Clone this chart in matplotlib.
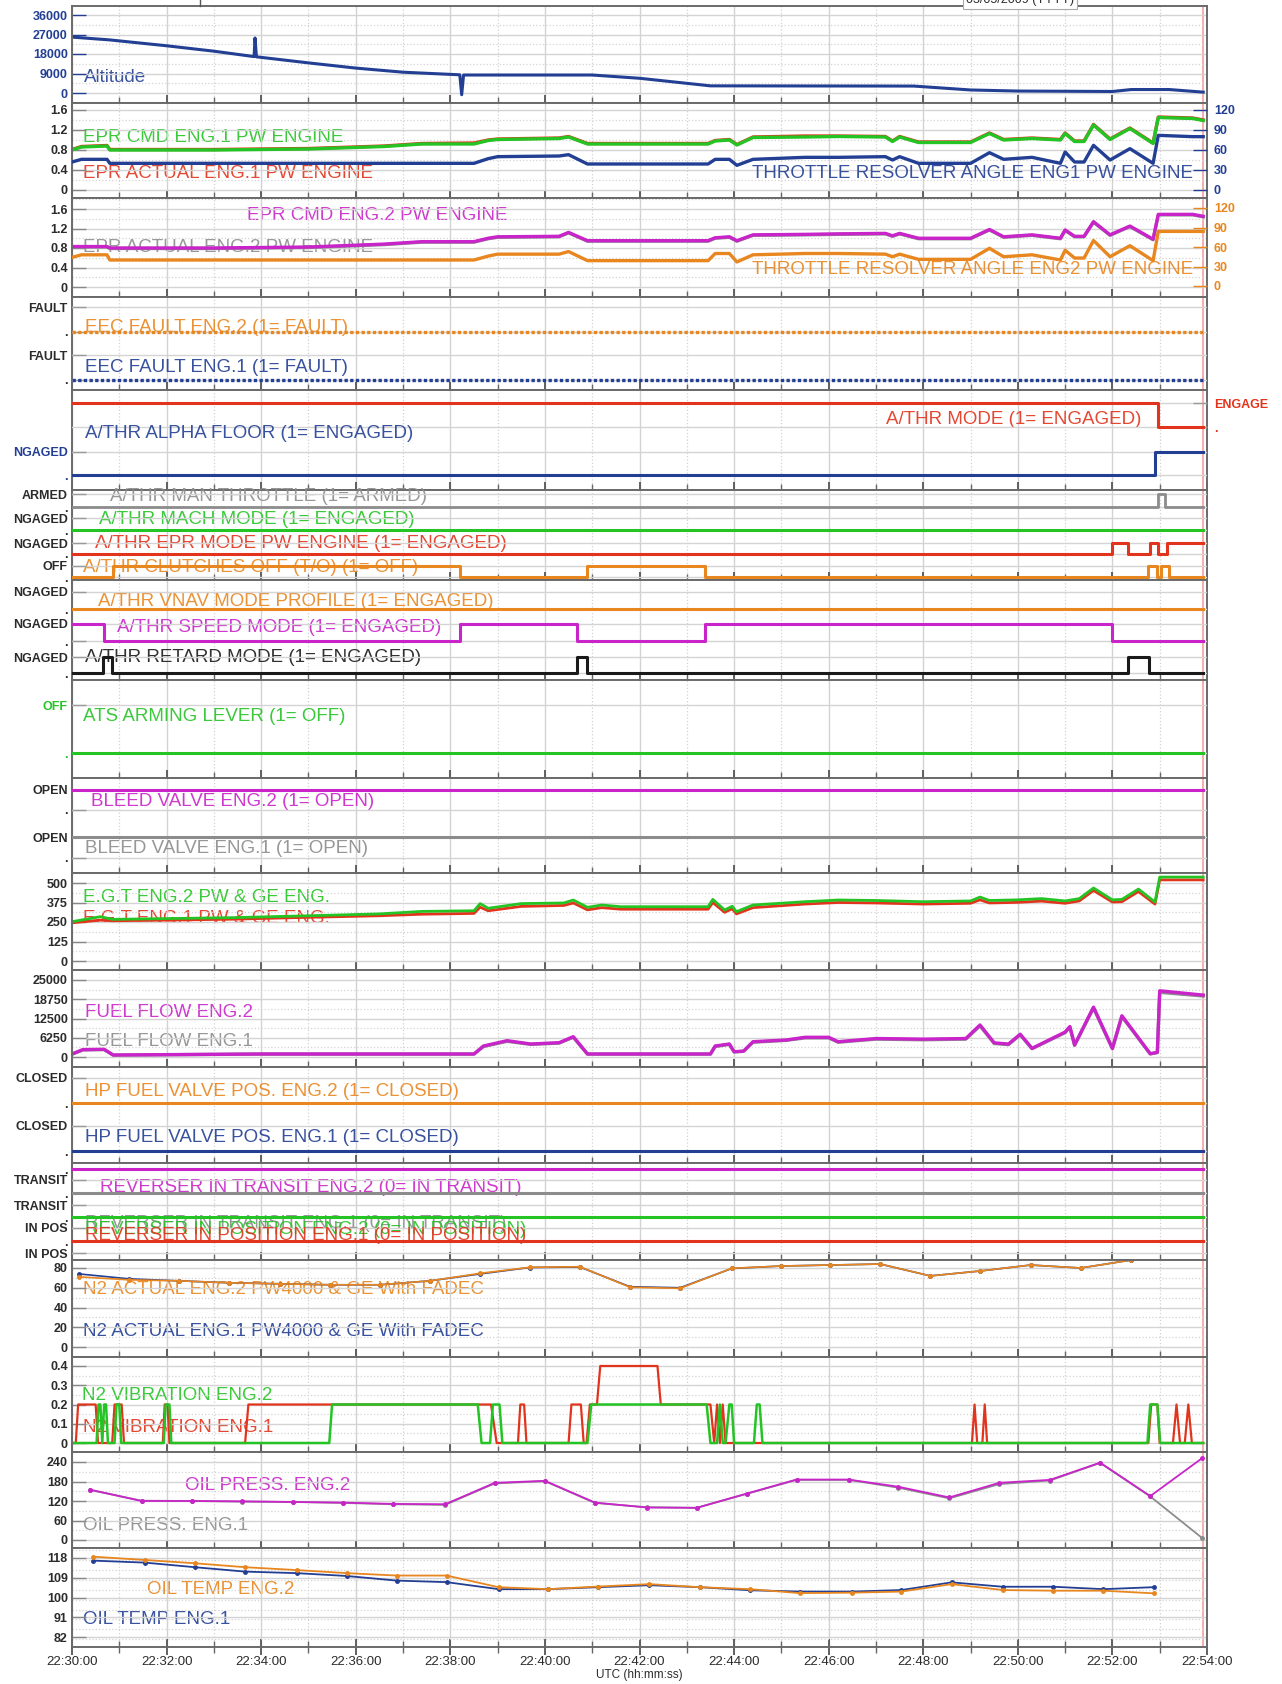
import matplotlib
matplotlib.use("Agg")
import matplotlib.pyplot as plt
from matplotlib.lines import Line2D
from matplotlib.ticker import MultipleLocator, FuncFormatter

plt.rcParams['font.family'] = ['Liberation Sans', 'DejaVu Sans']

# %% data -- time axis is minutes after 22:30:00 UTC
T_END = 23.92
const_t = [0, T_END]

alt_t = [0, 0.8, 2.0, 3.0, 3.85, 3.87, 3.9, 5.0, 6.0, 7.0, 8.2, 8.24, 8.28, 11.0, 12.0,
         13.5, 17.8, 19.0, 20.0, 22.0, 22.4, 23.2, 23.92]
alt_v = [25800, 24500, 21800, 19300, 16800, 25400, 16700, 13900, 11500, 9600, 8400, -800,
         8300, 8300, 6800, 3300, 3200, 1400, 900, 700, 1600, 1600, 400]

epr_t = [0, 0.2, 0.74, 0.8, 3.0, 5.0, 6.6, 7.4, 8.5, 8.8, 9.0, 10.3, 10.5, 10.9, 13.45,
         13.6, 13.9, 14.06, 14.4, 15.5, 16.2, 17.2, 17.35, 17.5, 17.9, 19.0, 19.4, 19.7,
         20.3, 20.9, 21.0, 21.2, 21.4, 21.6, 21.95, 22.37, 22.86, 22.97, 23.7, 23.92]
epr_cmd1 = [0.80, 0.86, 0.88, 0.80, 0.80, 0.82, 0.87, 0.92, 0.92, 0.99, 1.01, 1.03, 1.06,
            0.92, 0.92, 0.98, 1.00, 0.90, 1.05, 1.06, 1.07, 1.06, 0.97, 1.06, 0.95, 0.95,
            1.13, 1.00, 1.03, 1.00, 1.13, 0.97, 0.97, 1.30, 1.01, 1.23, 0.93, 1.45, 1.43, 1.39]
epr_act1 = [0.81, 0.87, 0.89, 0.81, 0.81, 0.83, 0.88, 0.93, 0.94, 1.00, 1.02, 1.04, 1.07,
            0.93, 0.93, 0.99, 1.01, 0.91, 1.06, 1.08, 1.08, 1.07, 0.98, 1.07, 0.96, 0.96,
            1.14, 1.01, 1.04, 1.01, 1.14, 0.98, 0.98, 1.31, 1.02, 1.24, 0.94, 1.46, 1.44, 1.40]
tra1 = [42, 46, 46, 40, 40, 40, 40, 40, 40, 47, 50, 51, 53, 39, 39, 46, 46, 37, 46, 49,
        49, 50, 45, 50, 40, 40, 56, 46, 49, 40, 57, 42, 42, 67, 45, 62, 40, 82, 80, 80]
epr_cmd2 = [0.83, 0.83, 0.83, 0.80, 0.80, 0.82, 0.88, 0.93, 0.93, 1.00, 1.03, 1.04, 1.12,
            0.95, 0.95, 1.01, 1.03, 0.95, 1.07, 1.08, 1.09, 1.10, 1.05, 1.10, 1.00, 1.00,
            1.18, 1.03, 1.07, 1.00, 1.17, 1.04, 1.04, 1.34, 1.07, 1.25, 0.98, 1.49, 1.49, 1.45]
epr_act2 = [0.82, 0.82, 0.82, 0.79, 0.79, 0.81, 0.87, 0.92, 0.92, 0.99, 1.02, 1.03, 1.11,
            0.94, 0.94, 1.00, 1.02, 0.94, 1.06, 1.07, 1.08, 1.09, 1.04, 1.09, 0.99, 0.99,
            1.17, 1.02, 1.06, 0.99, 1.16, 1.03, 1.03, 1.33, 1.06, 1.24, 0.97, 1.48, 1.48, 1.44]
tra2 = [44, 48, 48, 40, 40, 40, 40, 40, 40, 46, 49, 49, 53, 39, 39, 50, 50, 37, 48, 50,
        50, 49, 45, 49, 41, 41, 58, 45, 48, 40, 55, 43, 43, 70, 45, 62, 39, 84, 84, 84]

eec2_v = [0, 0]
eec1_v = [0, 0]
athr_mode_t = [0, 22.97, T_END]
athr_mode_v = [1, 0, 0]
alpha_t = [0, 22.9, T_END]
alpha_v = [0, 1, 1]
man_thr_t = [0, 22.97, 23.11, T_END]
man_thr_v = [0, 1, 0, 0]
mach_v = [0, 0]
epr_mode_t = [0, 22.0, 22.33, 22.8, 22.97, 23.15, T_END]
epr_mode_v = [0, 1, 0, 1, 0, 1, 1]
clutch_t = [0, 0.87, 8.2, 10.88, 13.39, 22.76, 22.94, 23.02, 23.2, T_END]
clutch_v = [0, 1, 0, 1, 0, 1, 0, 1, 0, 0]
vnav_v = [0, 0]
speed_t = [0, 0.68, 8.2, 10.67, 13.39, 22.0, T_END]
speed_v = [1, 0, 1, 0, 1, 0, 0]
retard_t = [0, 0.66, 0.85, 10.67, 10.88, 22.33, 22.77, T_END]
retard_v = [0, 1, 0, 1, 0, 1, 0, 0]
ats_v = [0, 0]
bleed2_v = [1, 1]
bleed1_v = [1, 1]

egt_t = [0, 0.6, 0.86, 2.0, 3.4, 5.0, 6.5, 7.4, 8.5, 8.63, 8.8, 9.5, 10.4, 10.6, 10.9, 11.2,
         11.6, 13.45, 13.55, 13.8, 13.96, 14.05, 14.4, 15.5, 16.2, 17.0, 18.0, 19.0, 19.2,
         19.4, 20.0, 20.5, 21.0, 21.3, 21.6, 22.0, 22.2, 22.55, 22.9, 23.0, 23.92]
egt2 = [252, 284, 267, 272, 278, 290, 302, 318, 322, 368, 338, 368, 372, 391, 344, 359, 348,
        348, 395, 327, 351, 316, 359, 380, 391, 388, 380, 385, 410, 388, 392, 400, 385, 400,
        468, 392, 395, 461, 378, 538, 538]
egt1 = [245, 262, 258, 262, 268, 280, 290, 300, 305, 345, 322, 350, 356, 372, 328, 342, 332,
        332, 375, 312, 335, 302, 342, 365, 375, 372, 365, 370, 392, 372, 376, 384, 370, 385,
        452, 378, 380, 445, 365, 520, 520]

ff_t = [0, 0.23, 0.68, 0.87, 4.0, 8.5, 8.7, 9.2, 9.7, 10.3, 10.6, 10.9, 13.5, 13.6, 13.9,
        14.0, 14.2, 14.4, 15.1, 15.5, 16.0, 16.2, 17.0, 18.0, 18.9, 19.2, 19.5, 19.8, 20.05,
        20.3, 21.0, 21.1, 21.2, 21.6, 22.0, 22.2, 22.8, 22.95, 23.0, 23.92]
ff2 = [974, 2400, 2500, 650, 974, 974, 3570, 5300, 4220, 4650, 6600, 974, 974, 3570, 4220,
       1720, 1900, 4970, 5520, 6400, 6400, 4970, 6000, 5800, 6000, 10400, 4600, 4200, 7400,
       2800, 8100, 9900, 3900, 16200, 2800, 13400, 1060, 1500, 21500, 20100]
ff1 = [900, 2300, 2400, 600, 950, 950, 3400, 5100, 4100, 4500, 6400, 950, 950, 3400, 4100,
       1650, 1850, 4800, 5400, 6200, 6200, 4800, 5800, 5600, 5800, 10100, 4400, 4000, 7200,
       2700, 7900, 9700, 3800, 15900, 2700, 13100, 1000, 1450, 21000, 19800]

hp2_v = [0, 0]
hp1_v = [0, 0]
rev_t2_v = [1, 1]
rev_t1_v = [1, 1]
rev_p2_v = [1, 1]
rev_p1_v = [1, 1]

n2_t = [0.15, 1.21, 2.27, 3.33, 4.39, 5.45, 6.51, 7.57, 8.63, 9.68, 10.74, 11.8, 12.86,
        13.95, 15.0, 16.03, 17.09, 18.15, 19.21, 20.27, 21.33, 22.39]
n2_eng2 = [71, 68, 67, 65, 64, 63, 63, 67, 74.6, 80.7, 81.3, 60.5, 59.4, 79.7, 82, 83, 84,
           72, 77, 83, 80, 88]
n2_eng1 = [74, 69, 67, 65, 64, 63, 63, 67, 74, 80.5, 81, 61, 60, 79.5, 82, 83, 84, 72, 77,
           83, 80, 88]

vib2_t = [0, 0.52, 0.56, 0.6, 0.64, 0.68, 0.72, 0.76, 0.9, 0.94, 1.0, 1.04, 1.94, 1.98,
          2.06, 2.1, 5.44, 5.5, 8.58, 8.66, 8.84, 8.9, 9.04, 9.1, 10.9, 10.98, 13.42, 13.5,
          13.64, 13.7, 13.76, 13.82, 13.9, 13.95, 14.0, 14.05, 14.42, 14.48, 14.54, 14.6,
          22.74, 22.8, 22.95, 23.01, 23.92]
vib2_v = [0, 0, 0.2, 0.2, 0, 0.2, 0.2, 0, 0, 0.2, 0.2, 0, 0, 0.2, 0.2, 0, 0, 0.2, 0.2, 0,
          0, 0.2, 0.2, 0, 0, 0.2, 0.2, 0, 0, 0.2, 0, 0, 0.2, 0.2, 0, 0, 0, 0.2, 0.2, 0,
          0, 0.2, 0.2, 0, 0]
vib1_t = [0, 0.08, 0.13, 0.5, 0.55, 0.85, 0.9, 1.05, 1.1, 1.92, 1.96, 2.02, 2.06, 3.66,
          3.73, 8.86, 8.98, 9.43, 9.48, 9.56, 9.61, 10.5, 10.56, 10.76, 10.82, 10.88, 10.95,
          11.1, 11.17, 12.38, 12.45, 13.5, 13.58, 13.64, 13.7, 13.76, 13.82, 19.03, 19.085,
          19.14, 19.25, 19.3, 19.35, 22.76, 22.82, 22.95, 23.0, 23.28, 23.355, 23.43, 23.53,
          23.605, 23.68, 23.92]
vib1_v = [0, 0, 0.2, 0.2, 0, 0, 0.2, 0.2, 0, 0, 0.2, 0.2, 0, 0, 0.2, 0.2, 0, 0, 0.2, 0.2,
          0, 0, 0.2, 0.2, 0, 0, 0.2, 0.2, 0.4, 0.4, 0.2, 0.2, 0, 0.2, 0, 0.2, 0, 0, 0.2, 0,
          0, 0.2, 0, 0, 0.2, 0.2, 0, 0, 0.2, 0, 0, 0.2, 0, 0]

op_t = [0.38, 1.47, 2.53, 3.59, 4.68, 5.74, 6.79, 7.89, 8.94, 10.0, 11.06, 12.15, 13.21,
        14.27, 15.32, 16.42, 17.47, 18.55, 19.61, 20.68, 21.74, 22.8, 23.89]
op_eng2 = [155, 120, 120, 119, 117, 115, 111, 110, 176, 182, 115, 100, 99, 143, 186, 186,
           164, 131, 176, 185, 238, 135, 251]
op_eng1 = [154, 121, 120, 118, 117, 114, 110, 108, 174, 181, 114, 101, 99, 142, 185, 185,
           161, 128, 172, 183, 237, 134, 7]

ot_t = [0.45, 1.54, 2.6, 3.66, 4.75, 5.81, 6.87, 7.92, 9.02, 10.07, 11.13, 12.21, 13.27,
        14.34, 15.39, 16.49, 17.54, 18.6, 19.68, 20.75, 21.81, 22.87]
ot_eng2 = [118.6, 117.1, 115.6, 113.8, 112.5, 111.1, 110.0, 110.0, 104.7, 103.8, 105.0,
           106.1, 104.7, 103.8, 102.0, 102.2, 102.7, 106.1, 103.4, 103.1, 103.1, 101.9]
ot_eng1 = [116.8, 115.9, 113.8, 111.8, 111.1, 109.8, 107.7, 107.0, 103.8, 103.8, 104.7,
           105.6, 104.7, 103.3, 102.7, 102.7, 103.4, 106.9, 104.9, 104.9, 103.8, 104.7]

alt_ticks = [0, 9000, 18000, 27000, 36000]
epr_ticks = [0, 0.4, 0.8, 1.2, 1.6]
epr_labels = ['0', '0.4', '0.8', '1.2', '1.6']
tra_ticks = [0, 30, 60, 90, 120]
egt_ticks = [0, 125, 250, 375, 500]
ff_ticks = [0, 6250, 12500, 18750, 25000]
n2_ticks = [0, 20, 40, 60, 80]
vib_ticks = [0, 0.1, 0.2, 0.3, 0.4]
vib_labels = ['0', '0.1', '0.2', '0.3', '0.4']
op_ticks = [0, 60, 120, 180, 240]
ot_ticks = [82, 91, 100, 109, 118]

# %% styling
NAVY = '#233f94'
GREEN = '#25c425'
RED = '#e2341d'
MAGENTA = '#c924c9'
ORANGE = '#e8861f'
GRAY = '#8c8c8c'
BLACK = '#1a1a1a'
TXT = '#2b2b2b'

W, H = 1282, 1684
X0, X1 = 72, 1207
fig = plt.figure(figsize=(W / 100, H / 100), dpi=100)


def rect(top, bot):
    return [X0 / W, 1 - bot / H, (X1 - X0) / W, (bot - top) / H]


def fit_ylim(ax, top, bot, va, ya, vb, yb):
    # value va sits on pixel row ya, vb on row yb
    k = (va - vb) / (yb - ya)
    ax.set_ylim(vb - (bot - yb) * k, va + (ya - top) * k)


def bold_ticks(ax):
    for lbl in ax.get_yticklabels():
        lbl.set_fontweight('bold')


def panel(top, bot, last=False):
    ax = fig.add_axes(rect(top, bot))
    ax.set_xlim(0, 24)
    ax.xaxis.set_major_locator(MultipleLocator(2))
    ax.xaxis.set_minor_locator(MultipleLocator(1))
    ax.tick_params(axis='x', which='major', direction='inout', length=11, width=1.3, color='#555555')
    ax.tick_params(axis='x', which='minor', direction='inout', length=9, width=1, color='#666666')
    ax.tick_params(axis='x', labelbottom=last, labelsize=9.5, labelcolor=TXT, pad=1)
    ax.grid(which='major', axis='x', color='#d2d2d2', lw=1)
    ax.grid(which='minor', axis='x', color='#d2d2d2', lw=0.9, ls=':')
    for s in ax.spines.values():
        s.set_color('#6a6a6a')
        s.set_linewidth(1.4)
    ax.axvline(T_END, color='#f2a0a0', lw=1.2, zorder=1)
    ax.set_yticks([])
    return ax


def numeric(top, bot, ticks, va, ya, vb, yb, labels=None, color=TXT, tick_color='#888888', last=False):
    ax = panel(top, bot, last)
    fit_ylim(ax, top, bot, va, ya, vb, yb)
    ax.set_yticks(ticks)
    ax.set_yticklabels(labels if labels else [str(v) for v in ticks])
    ax.yaxis.set_minor_locator(MultipleLocator((ticks[1] - ticks[0]) / 2))
    ax.tick_params(axis='y', which='major', direction='in', length=10, width=1,
                   color=tick_color, labelcolor=color, labelsize=9, pad=3)
    ax.tick_params(axis='y', which='minor', length=0)
    ax.grid(axis='y', which='major', color='#d4d4d4', lw=1)
    ax.grid(axis='y', which='minor', color='#d4d4d4', lw=0.9, ls=':')
    bold_ticks(ax)
    return ax


def right_axis(ax, top, bot, ticks, va, ya, vb, yb, color):
    tw = ax.twinx()
    tw.patch.set_visible(False)
    for s in tw.spines.values():
        s.set_visible(False)
    fit_ylim(tw, top, bot, va, ya, vb, yb)
    tw.set_yticks(ticks)
    tw.set_yticklabels([str(v) for v in ticks])
    tw.tick_params(axis='y', direction='in', length=10, width=1, color=color,
                   labelcolor=color, labelsize=9, pad=5)
    bold_ticks(tw)
    return tw


def track(top, bot, y1, y0, lab1, lab0, color=TXT, right=False):
    ax = fig.add_axes(rect(top, bot))
    ax.patch.set_visible(False)
    for s in ax.spines.values():
        s.set_visible(False)
    ax.set_xlim(0, 24)
    ax.set_xticks([])
    fit_ylim(ax, top, bot, 1, y1, 0, y0)
    ax.set_yticks([0, 1])
    ax.set_yticklabels([lab0, lab1])
    ax.tick_params(axis='y', direction='in', length=10, width=1, color='#9a9a9a',
                   labelcolor=color, labelsize=9, pad=3 if not right else 5)
    if right:
        ax.yaxis.tick_right()
    ax.grid(axis='y', color='#d4d4d4', lw=1)
    bold_ticks(ax)
    return ax


def label(ax, x, y, s, c, ha='left'):
    ax.text(x / W, 1 - y / H, s, color=c, fontsize=13.5, va='center', ha=ha, alpha=0.9,
            transform=fig.transFigure, zorder=1)


def step(ax, t, v, c, lw=2.0, ls='-'):
    ax.plot(t, v, color=c, lw=lw, ls=ls, drawstyle='steps-post', zorder=2)


# %% altitude
ax = numeric(6, 103, alt_ticks, 36000, 15, 0, 93, color=NAVY, tick_color=NAVY)
ax.plot(alt_t, alt_v, color=NAVY, lw=2.2, zorder=2)
label(ax, 84, 77, 'Altitude', NAVY)

# %% EPR engine 1
ax = numeric(103, 198, epr_ticks, 1.6, 110, 0, 190, labels=epr_labels)
label(ax, 83, 138, 'EPR CMD ENG.1 PW ENGINE', GREEN)
label(ax, 83, 174, 'EPR ACTUAL ENG.1 PW ENGINE', RED)
ax.plot(epr_t, epr_act1, color=RED, lw=2.4, zorder=2)
ax.plot(epr_t, epr_cmd1, color=GREEN, lw=2.4, zorder=2.1)
tw = right_axis(ax, 103, 198, tra_ticks, 120, 110, 0, 190, NAVY)
label(tw, 1193, 174, 'THROTTLE RESOLVER ANGLE ENG1 PW ENGINE', NAVY, ha='right')
tw.plot(epr_t, tra1, color=NAVY, lw=2.4, zorder=2)

# %% EPR engine 2
ax = numeric(198, 297, epr_ticks, 1.6, 209, 0, 287, labels=epr_labels)
label(ax, 247, 216, 'EPR CMD ENG.2 PW ENGINE', MAGENTA)
label(ax, 83, 247, 'EPR ACTUAL ENG.2 PW ENGINE', GRAY)
ax.plot(epr_t, epr_act2, color=GRAY, lw=2.4, zorder=2)
ax.plot(epr_t, epr_cmd2, color=MAGENTA, lw=2.4, zorder=2.1)
tw = right_axis(ax, 198, 297, tra_ticks, 120, 208, 0, 286, ORANGE)
label(tw, 1193, 270, 'THROTTLE RESOLVER ANGLE ENG2 PW ENGINE', ORANGE, ha='right')
tw.plot(epr_t, tra2, color=ORANGE, lw=2.4, zorder=2)

# %% EEC faults
panel(297, 390)
a = track(297, 390, 307, 332, 'FAULT', '.')
label(a, 85, 327, 'EEC FAULT ENG.2 (1= FAULT)', ORANGE)
step(a, const_t, eec2_v, ORANGE, lw=2.4, ls=(0, (1, 0.7)))
a = track(297, 390, 355, 380, 'FAULT', '.')
label(a, 85, 367, 'EEC FAULT ENG.1 (1= FAULT)', NAVY)
step(a, const_t, eec1_v, NAVY, lw=2.4, ls=(0, (1, 0.7)))

# %% autothrust modes
panel(390, 490)
a = track(390, 490, 403, 427, 'ENGAGE', '.', color=RED, right=True)
label(a, 886, 419, 'A/THR MODE (1= ENGAGED)', RED)
step(a, athr_mode_t, athr_mode_v, RED, lw=2.2)
a = track(390, 490, 452, 475, 'NGAGED', '.', color=NAVY)
label(a, 85, 433, 'A/THR ALPHA FLOOR (1= ENGAGED)', NAVY)
step(a, alpha_t, alpha_v, NAVY, lw=2.2)

panel(490, 580)
a = track(490, 580, 494, 507, 'ARMED', '.')
label(a, 110, 497, 'A/THR MAN THROTTLE (1= ARMED)', GRAY)
step(a, man_thr_t, man_thr_v, GRAY, lw=2.0)
a = track(490, 580, 518, 530, 'NGAGED', '.')
label(a, 99, 520, 'A/THR MACH MODE (1= ENGAGED)', GREEN)
step(a, const_t, mach_v, GREEN, lw=2.2)
a = track(490, 580, 543, 554, 'NGAGED', '.')
label(a, 95, 544, 'A/THR EPR MODE PW ENGINE (1= ENGAGED)', RED)
step(a, epr_mode_t, epr_mode_v, RED, lw=2.2)
a = track(490, 580, 566, 577, 'OFF', '.')
label(a, 83, 568, 'A/THR CLUTCHES OFF (T/O) (1= OFF)', ORANGE)
step(a, clutch_t, clutch_v, ORANGE, lw=2.2)

panel(580, 680)
a = track(580, 680, 592, 609, 'NGAGED', '.')
label(a, 98, 602, 'A/THR VNAV MODE PROFILE (1= ENGAGED)', ORANGE)
step(a, const_t, vnav_v, ORANGE, lw=2.2)
a = track(580, 680, 624, 641, 'NGAGED', '.')
label(a, 117, 628, 'A/THR SPEED MODE (1= ENGAGED)', MAGENTA)
step(a, speed_t, speed_v, MAGENTA, lw=2.2)
a = track(580, 680, 657, 673, 'NGAGED', '.')
label(a, 85, 657, 'A/THR RETARD MODE (1= ENGAGED)', BLACK)
step(a, retard_t, retard_v, BLACK, lw=2.2)

# %% ATS lever, bleeds
panel(680, 778)
a = track(680, 778, 705, 753, 'OFF', '.', color=GREEN)
label(a, 83, 717, 'ATS ARMING LEVER (1= OFF)', GREEN)
step(a, const_t, ats_v, GREEN, lw=2.2)

panel(778, 873)
a = track(778, 873, 790, 810, 'OPEN', '.')
label(a, 91, 801, 'BLEED VALVE ENG.2 (1= OPEN)', MAGENTA)
step(a, const_t, bleed2_v, MAGENTA, lw=2.2)
a = track(778, 873, 837, 858, 'OPEN', '.')
label(a, 85, 849, 'BLEED VALVE ENG.1 (1= OPEN)', GRAY)
step(a, const_t, bleed1_v, GRAY, lw=2.2)

# %% EGT
ax = numeric(873, 970, egt_ticks, 500, 883, 0, 961)
label(ax, 83, 898, 'E.G.T ENG.2 PW & GE ENG.', GREEN)
label(ax, 83, 918, 'E.G.T ENG.1 PW & GE ENG.', RED)
ax.plot(egt_t, egt1, color=RED, lw=2.0, zorder=2)
ax.plot(egt_t, egt2, color=GREEN, lw=2.0, zorder=2.1)

# %% fuel flow
ax = numeric(970, 1067, ff_ticks, 25000, 980, 0, 1057)
label(ax, 85, 1013, 'FUEL FLOW ENG.2', MAGENTA)
label(ax, 85, 1042, 'FUEL FLOW ENG.1', GRAY)
ax.plot(ff_t, ff1, color=GRAY, lw=2.4, zorder=2)
ax.plot(ff_t, ff2, color=MAGENTA, lw=2.4, zorder=2.1)

# %% HP fuel valves
panel(1067, 1163)
a = track(1067, 1163, 1078, 1103, 'CLOSED', '.')
label(a, 85, 1092, 'HP FUEL VALVE POS. ENG.2 (1= CLOSED)', ORANGE)
step(a, const_t, hp2_v, ORANGE, lw=2.2)
a = track(1067, 1163, 1126, 1151, 'CLOSED', '.')
label(a, 85, 1138, 'HP FUEL VALVE POS. ENG.1 (1= CLOSED)', NAVY)
step(a, const_t, hp1_v, NAVY, lw=2.2)

# %% reversers (labels overprint each other in the source chart)
panel(1163, 1260)
a = track(1163, 1260, 1169, 1180, '.', 'TRANSIT')
label(a, 100, 1187, 'REVERSER IN TRANSIT ENG.2 (0= IN TRANSIT)', MAGENTA)
step(a, const_t, rev_t2_v, MAGENTA, lw=2.2)
a = track(1163, 1260, 1193, 1205, '.', 'TRANSIT')
label(a, 85, 1224, 'REVERSER IN TRANSIT ENG.1 (0= IN TRANSIT)', GRAY)
step(a, const_t, rev_t1_v, GRAY, lw=2.2)
a = track(1163, 1260, 1217, 1228, '.', 'IN POS')
label(a, 85, 1230, 'REVERSER IN POSITION ENG.2 (0= IN POSITION)', GREEN)
step(a, const_t, rev_p2_v, GREEN, lw=2.2)
a = track(1163, 1260, 1241, 1253, '.', 'IN POS')
label(a, 85, 1235, 'REVERSER IN POSITION ENG.1 (0= IN POSITION)', RED)
step(a, const_t, rev_p1_v, RED, lw=2.2)

# %% N2
ax = numeric(1260, 1357, n2_ticks, 80, 1268, 0, 1347)
label(ax, 83, 1289, 'N2 ACTUAL ENG.2 PW4000 & GE With FADEC', ORANGE)
label(ax, 83, 1331, 'N2 ACTUAL ENG.1 PW4000 & GE With FADEC', NAVY)
ax.plot(n2_t, n2_eng1, color=NAVY, lw=1.2, marker='o', ms=2.5, zorder=2)
ax.plot(n2_t, n2_eng2, color=ORANGE, lw=1.2, marker='o', ms=2.5, zorder=2.1)

# %% N2 vibration
ax = numeric(1357, 1452, vib_ticks, 0.4, 1366, 0, 1443, labels=vib_labels)
label(ax, 82, 1395, 'N2 VIBRATION ENG.2', GREEN)
label(ax, 83, 1427, 'N2 VIBRATION ENG.1', RED)
ax.plot(vib1_t, vib1_v, color=RED, lw=1.6, zorder=2)
ax.plot(vib2_t, vib2_v, color=GREEN, lw=1.8, zorder=2.1)

# %% oil pressure
ax = numeric(1452, 1548, op_ticks, 240, 1462, 0, 1540)
label(ax, 185, 1485, 'OIL PRESS. ENG.2', MAGENTA)
label(ax, 83, 1525, 'OIL PRESS. ENG.1', GRAY)
ax.plot(op_t, op_eng1, color=GRAY, lw=1.3, marker='o', ms=2.5, zorder=2)
ax.plot(op_t, op_eng2, color=MAGENTA, lw=1.3, marker='o', ms=2.5, zorder=2.1)

# %% oil temperature
ax = numeric(1548, 1647, ot_ticks, 118, 1558, 82, 1637, last=True)
label(ax, 147, 1590, 'OIL TEMP ENG.2', ORANGE)
label(ax, 83, 1620, 'OIL TEMP ENG.1', NAVY)
ax.plot(ot_t, ot_eng1, color=NAVY, lw=1.3, marker='o', ms=2.5, zorder=2)
ax.plot(ot_t, ot_eng2, color=ORANGE, lw=1.3, marker='o', ms=2.5, zorder=2.1)
ax.xaxis.set_major_formatter(FuncFormatter(lambda v, _: '22:%02d:00' % (30 + int(round(v)))))
fig.text(639 / W, 1 - 1675 / H, 'UTC (hh:mm:ss)', ha='center', va='center', fontsize=8.5, color=TXT)

# header remnants at the very top
fig.text(1020 / W, 1.0, '03/05/2009 (YYYY)', ha='center', va='center', fontsize=9, color=TXT,
         bbox=dict(fc='white', ec='#aaaaaa', lw=0.8, pad=2))
fig.add_artist(Line2D([200 / W, 200 / W], [1, 1 - 6 / H], color='#555555', lw=1))

fig.savefig('out.png', dpi=100)
